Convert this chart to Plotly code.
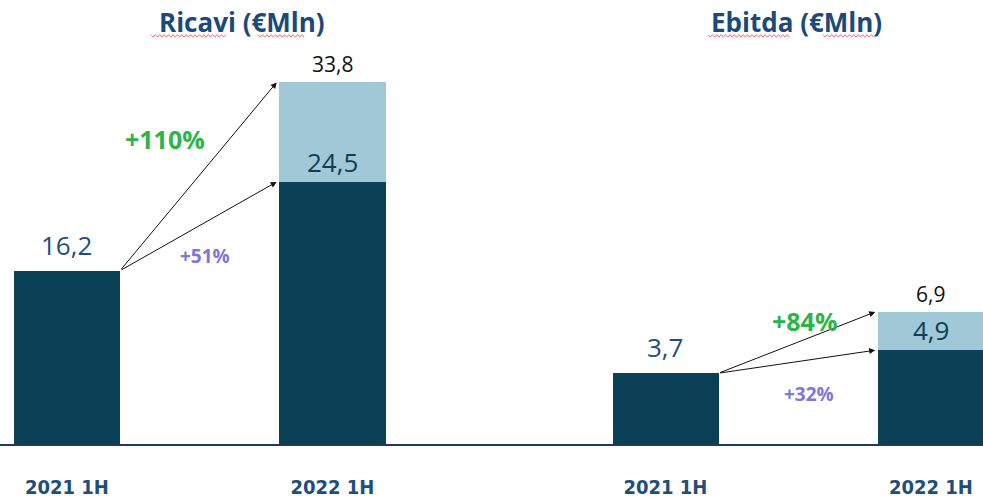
import plotly.graph_objects as go

# ---- data ----
periods = ["2021 1H", "2022 1H"]
ricavi_base = [16.2, 24.5]
ricavi_total = [16.2, 33.8]
ebitda_base = [3.7, 4.9]
ebitda_total = [3.7, 6.9]
ricavi_growth = ["+110%", "+51%"]   # vs total, vs base
ebitda_growth = ["+84%", "+32%"]
titles = ["Ricavi (€Mln)", "Ebitda (€Mln)"]

W, H = 983, 499
MT, MB = 0, 53
PH = H - MT - MB

DARK = "#0a4157"
LIGHT = "#a0c8d6"
NAVY = "#1b4a7a"
GREEN = "#2cb34a"
PURPLE = "#7b78d8"
BASEFONT = "Open Sans, Noto Sans, sans-serif"
NARROW = "Liberation Sans Narrow, DejaVu Sans Condensed, Arial Narrow, sans-serif"
BW = 0.4


def fmt(v):
    return f"{v:.1f}".replace(".", ",")


fig = go.Figure()
xs = [0, 1]
panels = [("x", "y", ricavi_base, ricavi_total, ricavi_growth),
          ("x2", "y2", ebitda_base, ebitda_total, ebitda_growth)]

annotations = []
for xa, ya, base, total, growth in panels:
    incr = [t - b if t - b > 0 else None for b, t in zip(base, total)]
    fig.add_trace(go.Bar(x=xs, y=base, xaxis=xa, yaxis=ya, width=BW,
                         marker=dict(color=DARK, line=dict(width=0)),
                         showlegend=False, hoverinfo="skip"))
    fig.add_trace(go.Bar(x=xs, y=incr, xaxis=xa, yaxis=ya, width=BW,
                         marker=dict(color=LIGHT, line=dict(width=0)),
                         showlegend=False, hoverinfo="skip"))
    # value labels
    annotations.append(dict(x=0, y=base[0], xref=xa, yref=ya, text=fmt(base[0]),
                            showarrow=False, yanchor="bottom", yshift=6,
                            font=dict(size=26, color="#1f4e79", family=BASEFONT)))
    annotations.append(dict(x=1, y=base[1], xref=xa, yref=ya, text=fmt(base[1]),
                            showarrow=False, yanchor="bottom", yshift=0,
                            font=dict(size=26, color="#0d3f57", family=BASEFONT)))
    annotations.append(dict(x=1, y=total[1], xref=xa, yref=ya, text=fmt(total[1]),
                            showarrow=False, yanchor="bottom", yshift=2,
                            font=dict(size=21, color="#111111", family=BASEFONT)))
    # arrows
    for tgt in (total[1], base[1]):
        annotations.append(dict(x=1 - BW / 2 - 0.01, y=tgt, xref=xa, yref=ya,
                                ax=BW / 2, ay=base[0], axref=xa, ayref=ya,
                                text="", showarrow=True, arrowhead=2, arrowsize=1.2,
                                arrowwidth=1, arrowcolor="#111111"))

# growth labels
annotations += [
    dict(x=0.37, y=28.5, xref="x", yref="y", text="<b>" + ricavi_growth[0] + "</b>",
         showarrow=False, font=dict(size=25, color=GREEN, family=BASEFONT)),
    dict(x=0.52, y=17.6, xref="x", yref="y", text="<b>" + ricavi_growth[1] + "</b>",
         showarrow=False, font=dict(size=19, color=PURPLE, family=BASEFONT)),
    dict(x=0.525, y=6.45, xref="x2", yref="y2", text="<b>" + ebitda_growth[0] + "</b>",
         showarrow=False, font=dict(size=25, color=GREEN, family=BASEFONT)),
    dict(x=0.54, y=2.6, xref="x2", yref="y2", text="<b>" + ebitda_growth[1] + "</b>",
         showarrow=False, font=dict(size=19, color=PURPLE, family=BASEFONT)),
]

# titles
for tx, t in zip([242, 796], titles):
    annotations.append(dict(x=tx / W, y=(PH - 22) / PH, xref="paper", yref="paper",
                            xanchor="center", yanchor="middle",
                            text="<b>" + t + "</b>", showarrow=False,
                            font=dict(size=26, color=NAVY, family=BASEFONT)))


# red spell-check squiggles
def squiggle(x0, x1, py):
    pts = []
    x = x0
    up = True
    while x <= x1:
        yy = py - 1.3 if up else py + 1.3
        pts.append((x / W, (PH - yy) / PH))
        x += 2.2
        up = not up
    return "M " + " L ".join(f"{a:.5f},{b:.5f}" for a, b in pts)


shapes = []
for x0, x1 in [(151, 227), (258, 306), (708, 790), (823, 875)]:
    shapes.append(dict(type="path", path=squiggle(x0, x1, 36), xref="paper", yref="paper",
                       line=dict(color="#f07070", width=1)))

fig.update_layout(
    width=W, height=H,
    margin=dict(l=0, r=0, t=MT, b=MB),
    paper_bgcolor="white", plot_bgcolor="white",
    barmode="stack", bargap=0,
    annotations=annotations, shapes=shapes,
    xaxis=dict(domain=[0, 0.5], range=[-0.252, 1.599]),
    xaxis2=dict(domain=[0.5, 1], range=[-0.655, 1.196]),
    yaxis=dict(range=[0, 41.5], visible=False, fixedrange=True),
    yaxis2=dict(range=[0, 23.2], anchor="x2", visible=False, fixedrange=True),
)
for ax in ("xaxis", "xaxis2"):
    fig.layout[ax].update(tickvals=xs, ticktext=periods, showgrid=False, zeroline=False,
                          showline=True, linecolor="#1f3864", linewidth=2,
                          ticks="outside", ticklen=24, tickcolor="rgba(0,0,0,0)",
                          tickfont=dict(size=20, color="#1f4e79", family=NARROW,
                                        weight="bold"))
fig.layout.xaxis2.anchor = "y2"

fig.write_html("out.html", config={"displayModeBar": False},
               post_script="document.body.style.margin='0px';document.body.style.overflow='hidden';")
